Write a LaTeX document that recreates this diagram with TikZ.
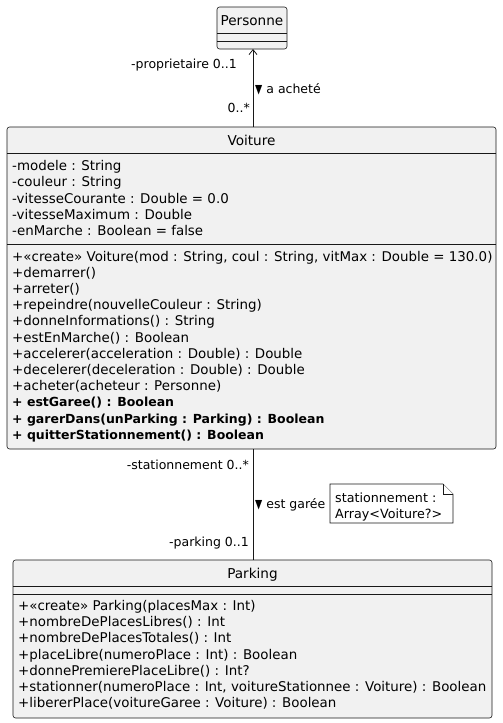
\documentclass[tikz,border=0pt]{standalone}
\usepackage{fontspec}
\setmainfont{DejaVu Sans}
\usetikzlibrary{arrows.meta}
\definecolor{boxfill}{HTML}{F1F1F1}
\definecolor{boxline}{HTML}{181818}
\begin{document}
\begin{tikzpicture}[x=1pt,y=-1pt,
  classbox/.style={draw=boxline, fill=boxfill, rounded corners=2.5pt, line width=0.6pt, inner sep=0pt, outer sep=0pt, anchor=north west},
  sepline/.style={draw=boxline, line width=0.6pt},
  ctitle/.style={font=\fontsize{13.6}{16}\selectfont, inner sep=0pt, anchor=base},
  members/.style={font=\fontsize{13.4}{16}\selectfont, inner sep=0pt, anchor=base west},
  boldmembers/.style={members, font=\fontsize{12.5}{16}\selectfont\bfseries},
  lbl/.style={font=\fontsize{12.5}{15}\selectfont, inner sep=0pt},
  notetext/.style={font=\fontsize{12.7}{15}\selectfont, inner sep=0pt, anchor=base west},
  assoc/.style={draw=boxline, line width=0.8pt},
  notebox/.style={draw=boxline, fill=white, line width=0.6pt}
]
\useasboundingbox (0,0) rectangle (503,723);

% Personne
\node[classbox, minimum width=70pt, minimum height=42pt] (personne) at (217,7) {};
\node[ctitle] (personneT) at (252,25) {Personne};
\draw[sepline] (217,33) -- (287,33);
\draw[sepline] (217,41) -- (287,41);

% Voiture
\node[classbox, minimum width=489pt, minimum height=322pt] (voiture) at (7,127) {};
\node[ctitle] (voitureT) at (251.5,145.5) {Voiture};
\draw[sepline] (7,153) -- (496,153);
\foreach \t [count=\i] in {
  {-modele : String},
  {-couleur : String},
  {-vitesseCourante : Double = 0.0},
  {-vitesseMaximum : Double},
  {-enMarche : Boolean = false}}
  \node[members] (va\i) at (12,{170.7+16.2*(\i-1)}) {\t};
\draw[sepline] (7,244) -- (496,244);
\foreach \t [count=\i] in {
  {+«create» Voiture(mod : String, coul : String, vitMax : Double = 130.0)},
  {+demarrer()},
  {+arreter()},
  {+repeindre(nouvelleCouleur : String)},
  {+donneInformations() : String},
  {+estEnMarche() : Boolean},
  {+accelerer(acceleration : Double) : Double},
  {+decelerer(deceleration : Double) : Double},
  {+acheter(acheteur : Personne)}}
  \node[members] (vm\i) at (12,{261+16.2*(\i-1)}) {\t};
\foreach \t [count=\i] in {
  {+ estGaree() : Boolean},
  {+ garerDans(unParking : Parking) : Boolean},
  {+ quitterStationnement() : Boolean}}
  \node[boldmembers] (vb\i) at (12,{261+16.2*(\i+8)}) {\t};

% Parking
\node[classbox, minimum width=479pt, minimum height=158pt] (parking) at (13,560) {};
\node[ctitle] (parkingT) at (252.5,578) {Parking};
\draw[sepline] (13,586) -- (492,586);
\draw[sepline] (13,594) -- (492,594);
\foreach \t [count=\i] in {
  {+«create» Parking(placesMax : Int)},
  {+nombreDePlacesLibres() : Int},
  {+nombreDePlacesTotales() : Int},
  {+placeLibre(numeroPlace : Int) : Boolean},
  {+donnePremierePlaceLibre() : Int?},
  {+stationner(numeroPlace : Int, voitureStationnee : Voiture) : Boolean},
  {+libererPlace(voitureGaree : Voiture) : Boolean}}
  \node[members] (pm\i) at (18,{610.5+16.2*(\i-1)}) {\t};

% Associations
\draw[assoc, -{Straight Barb[length=5pt,width=8pt,line width=0.8pt]}] (voiture.north -| 253,0) -- (personne.south -| 253,0);
\node[lbl, anchor=east] (roleProp) at (237,65) {-proprietaire 0..1};
\node[lbl, anchor=west] (nameAchete) at (255,89) {\scalebox{0.75}[1]{▼} a acheté};
\node[lbl, anchor=east] (multVoit) at (250,108) {0..*};

\draw[assoc] (voiture.south -| 253,0) -- (parking.north -| 253,0);
\node[lbl, anchor=east] (roleStat) at (249,465) {-stationnement 0..*};
\node[lbl, anchor=west] (nameGaree) at (255,505) {\scalebox{0.75}[1]{▼} est garée};
\node[lbl, anchor=east] (roleParking) at (249,543) {-parking 0..1};

% Note
\coordinate (nA) at (330,484);
\coordinate (nB) at (443,484);
\coordinate (nC) at (453,494);
\coordinate (nD) at (453,523);
\coordinate (nE) at (330,523);
\draw[notebox] (nA) -- (nB) -- (nC) -- (nD) -- (nE) -- cycle;
\draw[notebox] (nB) -- (443,494) -- (nC);
\node[notetext] (noteT1) at (335,502) {stationnement :};
\node[notetext] (noteT2) at (335,518) {Array<Voiture?>};
\end{tikzpicture}
\end{document}
